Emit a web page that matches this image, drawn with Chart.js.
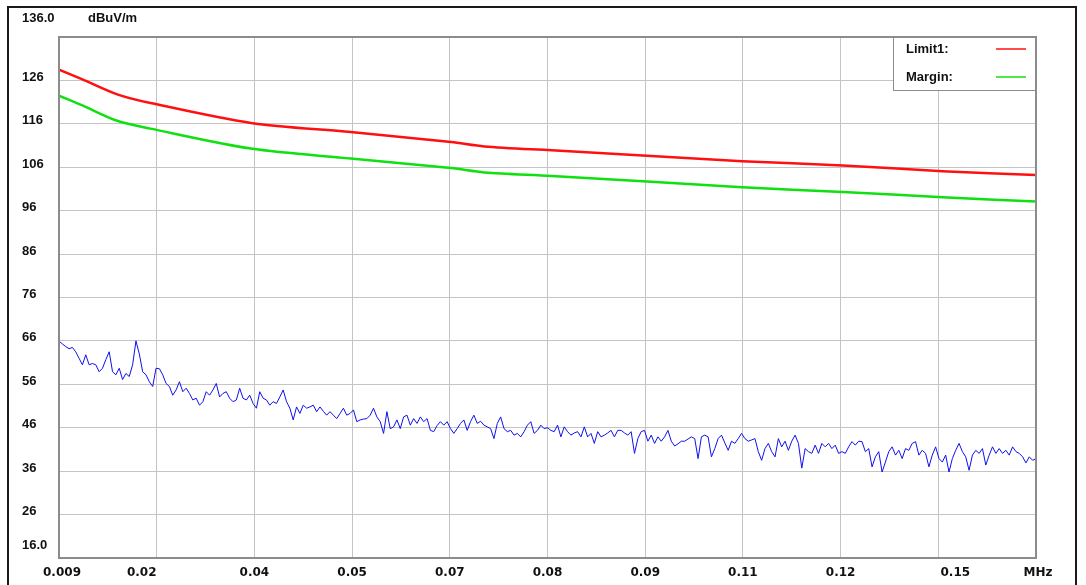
<!DOCTYPE html>
<html>
<head>
<meta charset="utf-8">
<script src="https://cdn.jsdelivr.net/npm/chart.js@4.4.1/dist/chart.umd.min.js"></script>
<style>
  html, body { margin: 0; padding: 0; background: #fff; }
  #wrap { position: relative; width: 1086px; height: 585px; }
</style>
</head>
<body>
<div id="wrap"><canvas id="emcChart" width="1086" height="585"></canvas></div>
<script>
// level axis (dBuV/m)
const yMin = 16, yMax = 136, yStep = 10;
const yUnit = 'dBuV/m';

// frequency axis (MHz), 10 divisions
const xMin = 0.009, xMax = 0.15;
const xTickLabels = ['0.009', '0.02', '0.04', '0.05', '0.07', '0.08', '0.09', '0.11', '0.12', '0.15', 'MHz'];

// Limit1 line
const limitFreq  = [0.009, 0.0123, 0.0174, 0.0222, 0.0367, 0.0511, 0.0656, 0.0704, 0.0801, 0.1076, 0.1221, 0.1365, 0.15];
const limitLevel = [128.5, 126.3, 122.8, 120.8, 116.2, 114.1, 111.8, 110.8, 109.9, 107.4, 106.4, 105.1, 104.2];

// Margin line
const marginFreq  = [0.009, 0.0123, 0.0174, 0.0222, 0.0367, 0.0511, 0.0656, 0.0704, 0.0801, 0.1076, 0.1221, 0.1365, 0.15];
const marginLevel = [122.5, 120.3, 116.7, 114.9, 110.3, 108.0, 105.8, 104.8, 104.0, 101.4, 100.3, 99.1, 98.1];

// measured trace, one value per sweep step from scanStart to scanStop
const scanStart = 0.009, scanStop = 0.15;
const scanLevel = [
  66.0, 65.3, 64.7, 64.2, 64.5, 63.5, 62.0, 60.5, 62.8, 60.5,
  60.8, 60.5, 58.9, 59.7, 61.7, 63.5, 58.9, 58.2, 59.7, 57.1,
  58.5, 57.8, 60.5, 66.0, 63.0, 58.9, 58.2, 56.6, 55.5, 59.7,
  59.6, 58.2, 56.2, 55.5, 53.5, 54.7, 56.6, 54.3, 55.1, 53.9,
  52.4, 52.8, 51.2, 52.0, 54.3, 53.5, 54.7, 56.2, 53.1, 53.9,
  54.3, 52.8, 52.0, 52.4, 55.1, 52.8, 52.4, 53.5, 51.6, 50.5,
  54.3, 52.8, 52.4, 51.2, 52.0, 51.6, 53.1, 54.7, 52.0, 50.5,
  47.8, 50.8, 49.3, 51.2, 50.5, 50.8, 51.2, 49.7, 50.8, 49.8,
  48.9, 49.7, 48.9, 48.1, 49.3, 50.5, 48.9, 49.3, 50.1, 47.4,
  47.8, 48.0, 48.1, 48.9, 50.5, 48.5, 47.4, 44.7, 49.7, 45.8,
  46.2, 47.8, 45.8, 48.5, 48.9, 46.6, 48.1, 47.0, 48.5, 47.4,
  48.1, 45.4, 45.1, 46.5, 47.4, 46.6, 47.4, 45.8, 44.7, 45.8,
  47.0, 47.8, 45.4, 47.4, 48.9, 47.0, 47.5, 46.6, 46.2, 45.8,
  43.5, 47.0, 48.5, 45.8, 45.1, 45.4, 44.3, 44.7, 43.9, 45.1,
  46.6, 47.4, 44.7, 45.4, 46.6, 45.8, 46.0, 45.4, 45.1, 46.6,
  43.9, 46.2, 45.1, 44.3, 44.8, 45.1, 43.9, 46.2, 43.9, 44.7,
  42.4, 45.1, 43.9, 44.3, 44.8, 45.4, 43.9, 45.4, 45.4, 44.8,
  44.3, 45.1, 40.1, 43.5, 45.1, 45.4, 42.9, 44.3, 42.4, 43.9,
  42.9, 43.9, 45.4, 42.9, 41.8, 42.3, 42.9, 42.9, 43.4, 43.9,
  43.5, 38.9, 43.9, 44.3, 43.9, 39.3, 41.2, 43.5, 44.3, 42.5,
  40.8, 42.9, 42.4, 43.5, 44.7, 43.5, 42.9, 43.2, 43.5, 40.5,
  38.5, 41.2, 42.4, 40.5, 39.3, 43.5, 41.6, 42.9, 40.8, 42.9,
  44.3, 42.4, 36.7, 41.2, 40.5, 40.1, 42.0, 40.1, 42.4, 41.6,
  42.4, 41.2, 42.0, 40.1, 40.5, 40.1, 41.6, 42.8, 42.0, 42.9,
  42.8, 40.5, 41.2, 37.0, 39.3, 40.5, 35.8, 38.1, 40.5, 41.6,
  39.7, 40.8, 38.9, 41.2, 40.8, 42.4, 42.8, 39.7, 40.8, 40.1,
  37.0, 39.7, 41.6, 38.9, 38.1, 39.7, 35.8, 38.9, 40.8, 42.4,
  40.5, 39.3, 36.2, 39.7, 40.8, 40.1, 41.2, 37.4, 39.7, 41.6,
  40.1, 41.2, 40.1, 40.8, 39.7, 41.6, 40.5, 40.1, 39.3, 37.9,
  39.3, 38.5, 38.9
];

const TEXT_FONT = 'bold 13px "Liberation Sans", Arial, sans-serif';
const X_FONT = 'bold 12px "DejaVu Sans", Arial, sans-serif';
// the instrument software nudges a couple of frequency labels off their grid line
const X_LABEL_NUDGE = { 0: 3, 1: -15, 9: 17, 10: 2 };

function pairs(xs, ys) {
  return ys.map((v, i) => ({ x: xs[i], y: v }));
}

const scanStepMHz = (scanStop - scanStart) / (scanLevel.length - 1);
const scanPoints = scanLevel.map((v, i) => ({ x: scanStart + i * scanStepMHz, y: v }));

const decorPlugin = {
  id: 'decor',
  beforeDraw(chart) {
    const ctx = chart.ctx;
    ctx.save();
    ctx.fillStyle = '#ffffff';
    ctx.fillRect(0, 0, chart.width, chart.height);
    ctx.restore();
  },
  afterDraw(chart) {
    const { ctx, chartArea: a, scales } = chart;
    const x = scales.x, y = scales.y;
    ctx.save();

    // plot frame
    ctx.strokeStyle = '#8c8c8c';
    ctx.lineWidth = 2;
    ctx.strokeRect(a.left, a.top, a.right - a.left, a.bottom - a.top);

    // outer frame
    ctx.strokeStyle = '#1a1a1a';
    ctx.lineWidth = 2;
    ctx.beginPath();
    ctx.moveTo(8, 585);
    ctx.lineTo(8, 7);
    ctx.lineTo(1076, 7);
    ctx.lineTo(1076, 585);
    ctx.stroke();

    // level labels
    ctx.fillStyle = '#111';
    ctx.font = TEXT_FONT;
    ctx.textAlign = 'left';
    ctx.textBaseline = 'middle';
    y.ticks.forEach(t => {
      let py = y.getPixelForValue(t.value) - 3;
      let txt = String(t.value);
      if (t.value === yMin) { txt = t.value.toFixed(1); py = y.getPixelForValue(t.value) - 13; }
      if (t.value === yMax) { txt = t.value.toFixed(1); py = 18; }
      ctx.fillText(txt, 22, py);
    });
    ctx.fillText(yUnit, 88, 18);

    // frequency labels
    ctx.font = X_FONT;
    ctx.textAlign = 'center';
    x.ticks.forEach((t, i) => {
      ctx.fillText(xTickLabels[i], x.getPixelForValue(t.value) + (X_LABEL_NUDGE[i] || 0), 573);
    });

    // legend box
    const lx = 893, ly = a.top, lw = a.right - 893, lh = 53;
    ctx.fillStyle = '#fff';
    ctx.fillRect(lx, ly, lw, lh);
    ctx.strokeStyle = '#8c8c8c';
    ctx.lineWidth = 1;
    ctx.strokeRect(lx + 0.5, ly + 0.5, lw - 1, lh);
    const legendSets = chart.data.datasets
      .filter(d => d.legendRow !== undefined)
      .sort((p, q) => p.legendRow - q.legendRow);
    legendSets.forEach((d, i) => {
      const rowY = ly + 12 + i * 28;
      ctx.fillStyle = '#111';
      ctx.font = TEXT_FONT;
      ctx.textAlign = 'left';
      ctx.fillText(d.label, 906, rowY);
      ctx.strokeStyle = d.borderColor;
      ctx.lineWidth = 1.5;
      ctx.beginPath();
      ctx.moveTo(996, rowY);
      ctx.lineTo(1026, rowY);
      ctx.stroke();
    });

    ctx.restore();
  }
};

new Chart(document.getElementById('emcChart'), {
  type: 'line',
  data: {
    datasets: [
      {
        label: 'Trace',
        data: scanPoints,
        borderColor: '#1010ee',
        borderWidth: 1,
        pointRadius: 0,
        tension: 0
      },
      {
        label: 'Margin:',
        data: pairs(marginFreq, marginLevel),
        borderColor: '#10e010',
        borderWidth: 2.5,
        pointRadius: 0,
        tension: 0.3,
        legendRow: 1
      },
      {
        label: 'Limit1:',
        data: pairs(limitFreq, limitLevel),
        borderColor: '#ff1010',
        borderWidth: 2.5,
        pointRadius: 0,
        tension: 0.3,
        legendRow: 0
      }
    ]
  },
  options: {
    responsive: false,
    animation: false,
    devicePixelRatio: 1,
    layout: { padding: { left: 59, top: 37, right: 50, bottom: 27 } },
    plugins: {
      legend: { display: false },
      tooltip: { enabled: false }
    },
    scales: {
      x: {
        type: 'linear',
        min: xMin,
        max: xMax,
        afterBuildTicks: s => {
          s.ticks = xTickLabels.map((_, i) => ({ value: xMin + i * (xMax - xMin) / (xTickLabels.length - 1) }));
        },
        ticks: { display: false },
        grid: { color: '#c4c4c4', lineWidth: 1, drawTicks: false },
        border: { display: false }
      },
      y: {
        type: 'linear',
        min: yMin,
        max: yMax,
        afterBuildTicks: s => {
          const t = [];
          for (let v = yMin; v <= yMax; v += yStep) t.push({ value: v });
          s.ticks = t;
        },
        ticks: { display: false },
        grid: { color: '#c4c4c4', lineWidth: 1, drawTicks: false },
        border: { display: false }
      }
    }
  },
  plugins: [decorPlugin]
});
</script>
</body>
</html>
